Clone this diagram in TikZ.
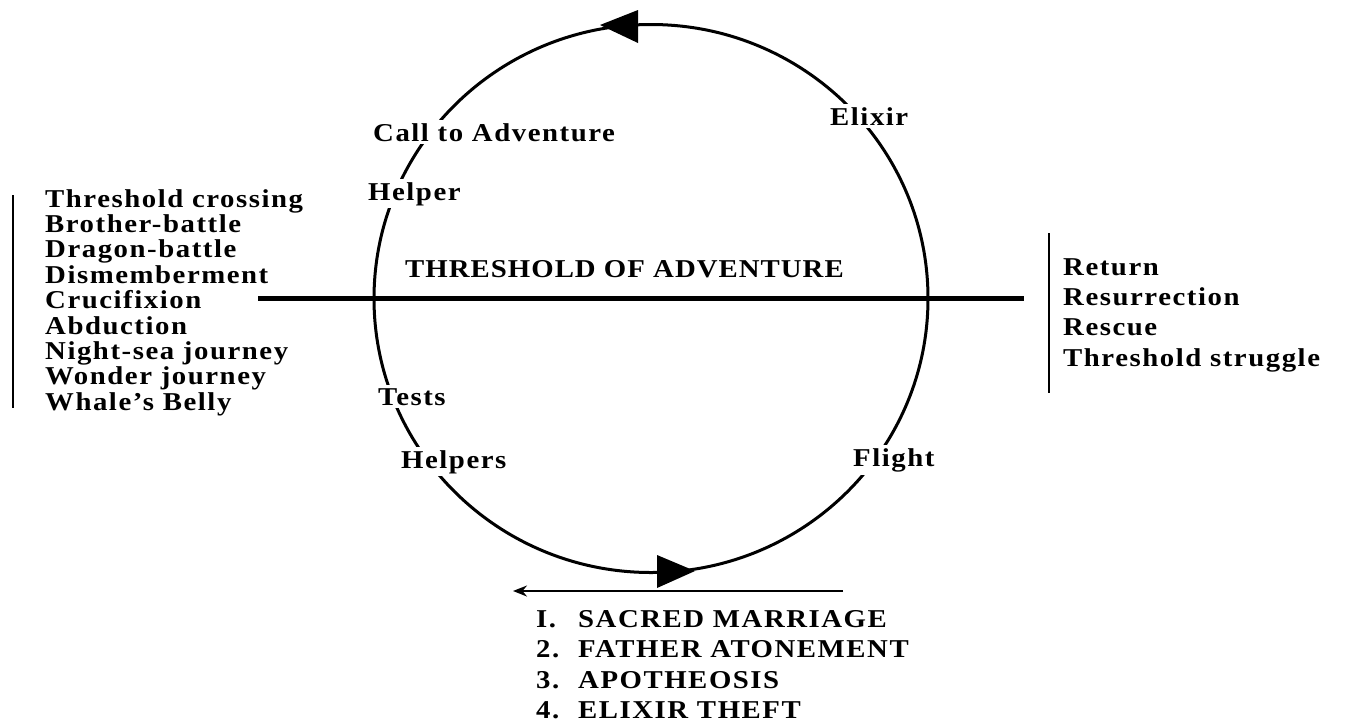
\documentclass[tikz,border=0pt]{standalone}
\usepackage{fontspec}
\setmainfont{Liberation Serif}[LetterSpace=6,FakeStretch=1.12]
\usetikzlibrary{arrows.meta}
\tikzset{
  lbl/.style={anchor=base west, inner sep=0pt, font=\fontsize{25.7}{25.4}\selectfont\bfseries},
  tlbl/.style={lbl, font=\fontsize{25.7}{25.4}\selectfont\bfseries\addfontfeature{LetterSpace=4}},
  clbl/.style={lbl, fill=white, inner sep=3pt},
  vbar/.style={line width=2pt},
  thick line/.style={line width=5pt},
  ring/.style={line width=3pt},
  head/.style={fill=black},
}
\begin{document}
\begin{tikzpicture}[x=1pt,y=-1pt]
\useasboundingbox (0,0) rectangle (1346,721);
% circle
\draw[ring] (651,298.5) ellipse [x radius=277pt, y radius=274pt];
% threshold line
\coordinate (hl) at (258,298);
\coordinate (hr) at (1024,298);
\draw[thick line] (hl) -- (hr);
% arrowheads on circle
\fill[head] (600,25) -- (638,10) -- (638,43) -- cycle;
\fill[head] (695,571) -- (657,555) -- (657,588) -- cycle;
% thin arrow
\coordinate (ta) at (843,591);
\coordinate (tb) at (513,591);
\draw[line width=2pt, -{Stealth[length=14pt,width=11pt]}] (ta) -- (tb);
% vertical bars
\coordinate (lv1) at (13,195);
\coordinate (lv2) at (13,408);
\draw[vbar] (lv1) -- (lv2);
\coordinate (rv1) at (1049,233);
\coordinate (rv2) at (1049,393);
\draw[vbar] (rv1) -- (rv2);
% circle labels
\node[clbl] (call) at (370,141) {Call to Adventure};
\node[clbl] (helper) at (365,200) {Helper};
\node[clbl] (elixir) at (827,125) {Elixir};
\node[clbl] (tests) at (375,405) {Tests};
\node[clbl] (helpers) at (398,468) {Helpers};
\node[clbl] (flight) at (850,466) {Flight};
\node[tlbl] (thr) at (405,277) {THRESHOLD OF ADVENTURE};
% left list
\node[lbl] (l1) at (45,207) {Threshold crossing};
\node[lbl] (l2) at (45,232.4) {Brother-battle};
\node[lbl] (l3) at (45,257.8) {Dragon-battle};
\node[lbl] (l4) at (45,283.2) {Dismemberment};
\node[lbl] (l5) at (45,308.6) {Crucifixion};
\node[lbl] (l6) at (45,334) {Abduction};
\node[lbl] (l7) at (45,359.4) {Night-sea journey};
\node[lbl] (l8) at (45,384.8) {Wonder journey};
\node[lbl] (l9) at (45,410.2) {Whale’s Belly};
% right list
\node[lbl] (r1) at (1063,275) {Return};
\node[lbl] (r2) at (1063,305) {Resurrection};
\node[lbl] (r3) at (1063,335.5) {Rescue};
\node[lbl] (r4) at (1063,366) {Threshold struggle};
% bottom list
\node[lbl] (n1) at (536,627) {I.};
\node[lbl] (b1) at (578,627) {SACRED MARRIAGE};
\node[lbl] (n2) at (536,657.5) {2.};
\node[lbl] (b2) at (578,657.5) {FATHER ATONEMENT};
\node[lbl] (n3) at (536,688) {3.};
\node[lbl] (b3) at (578,688) {APOTHEOSIS};
\node[lbl] (n4) at (536,718) {4.};
\node[lbl] (b4) at (578,718) {ELIXIR THEFT};
\end{tikzpicture}
\end{document}
